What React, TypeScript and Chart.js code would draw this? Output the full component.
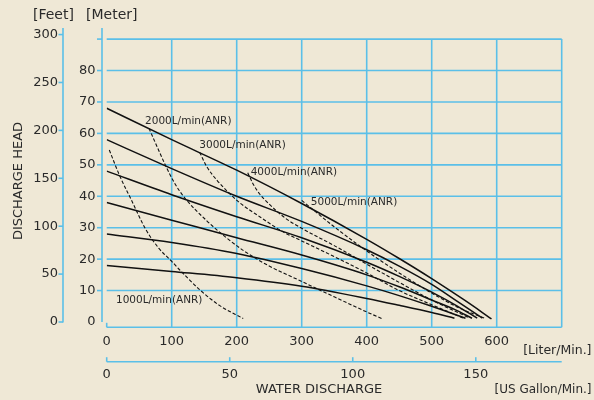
import React, { useEffect, useRef } from "react";
import { Chart, registerables } from "chart.js";

Chart.register(...registerables);

// ---- data (flow in L/min, head in m) ----
const solid68: [number, number][] = [[0, 68], [100, 58], [200, 48.3], [300, 37.7], [400, 26.3], [450, 20.2], [500, 13.8], [550, 7], [592, 1]];
const solid58: [number, number][] = [[0, 58], [100, 48.8], [200, 40], [300, 32], [400, 23], [450, 17.8], [500, 12], [540, 6.5], [578, 1.2]];
const solid48: [number, number][] = [[0, 48], [100, 40.5], [200, 33.5], [300, 26.8], [400, 19], [450, 14.5], [500, 9.5], [540, 5], [570, 1.2]];
const solid38: [number, number][] = [[0, 38], [100, 32.4], [200, 26.8], [300, 21.3], [400, 15], [450, 11.2], [500, 7], [535, 4], [562, 1.2]];
const solid28: [number, number][] = [[0, 28], [100, 25.3], [200, 21.8], [300, 17], [400, 11.5], [450, 8.4], [500, 5], [552, 1.2]];
const solid18: [number, number][] = [[0, 18], [100, 16.1], [200, 14.1], [300, 11.4], [400, 7.5], [450, 5.3], [500, 3], [535, 1.2]];

const air1000: [number, number][] = [[4, 54.7], [20, 46.5], [38, 38.8], [60, 29.5], [80, 23.5], [100, 19.3], [115, 16], [143, 10.3], [174, 5.2], [210, 1.1]];
const air2000: [number, number][] = [[65, 61.6], [82, 53.7], [90, 50], [105, 44], [120, 39.5], [154, 32.2], [183, 27], [210, 22.8], [250, 17.8], [297, 13.2], [350, 8], [400, 3.2], [423, 1.1]];
const air3000: [number, number][] = [[143, 54], [154, 49.4], [170, 45], [185, 41.7], [203, 38.2], [236, 33.4], [272, 28.6], [300, 25.8], [350, 20.8], [400, 15.6], [450, 10], [500, 5.5], [548, 1.3]];
const air4000: [number, number][] = [[217, 47.5], [225, 44], [235, 40.8], [250, 37.5], [275, 33], [300, 29.8], [350, 24.3], [400, 18.4], [450, 12.6], [500, 7], [558, 1.3]];
const air5000: [number, number][] = [[300, 38.7], [350, 30.3], [400, 22.6], [450, 15.6], [500, 9.2], [545, 4.2], [582, 1.2]];

const airLabels = ["1000L/min(ANR)", "2000L/min(ANR)", "3000L/min(ANR)", "4000L/min(ANR)", "5000L/min(ANR)"];
const airLabelAt: [number, number][] = [[14.3, 7], [59, 64], [142.5, 56.3], [221.5, 47.5], [314, 38]];

const meterTicks = [0, 10, 20, 30, 40, 50, 60, 70, 80];
const meterGrid = [10, 20, 30, 40, 50, 60, 70, 80, 90];
const feetTicks = [0, 50, 100, 150, 200, 250, 300];
const literTicks = [0, 100, 200, 300, 400, 500, 600];
const literGrid = [100, 200, 300, 400, 500, 600, 700];
const gallonTicks = [0, 50, 100, 150];

const X_MAX = 700;
const Y_MAX = 93.5;
const FT_PER_M = 3.2808;
const L_PER_GAL = 3.7854;

const BG = "#efe8d6";
const GRID = "#5bbfe8";
const INK = "#2a2a2a";
const FONT = "DejaVu Sans";

const toXY = (pts: [number, number][]) => pts.map(([x, y]) => ({ x, y }));

const framePlugin = {
  id: "frame",
  beforeDatasetsDraw(chart: any) {
    const { ctx, scales } = chart;
    const x = scales.x, y = scales.y, yFt = scales.yFt, xGal = scales.xGal;
    const x0 = x.getPixelForValue(0);
    const xEnd = x.getPixelForValue(X_MAX);
    const y0 = y.getPixelForValue(0);
    const yTop = y.getPixelForValue(90);
    const axisTop = y.getPixelForValue(Y_MAX);
    const meterAxisX = x0 - 4.7;
    const feetAxisX = x0 - 43.7;
    const literAxisY = y0 + 5.3;
    const gallonAxisY = y0 + 39.7;

    const line = (a: number, b: number, c: number, d: number) => {
      ctx.beginPath();
      ctx.moveTo(a, b);
      ctx.lineTo(c, d);
      ctx.stroke();
    };

    ctx.save();
    ctx.strokeStyle = GRID;
    ctx.lineWidth = 1.6;
    ctx.lineCap = "butt";
    // horizontal grid
    for (const v of meterGrid) {
      const py = y.getPixelForValue(v);
      line(x0, py, xEnd, py);
      line(meterAxisX - 5, py, meterAxisX, py);
    }
    // vertical grid
    for (const v of literGrid) {
      const px = x.getPixelForValue(v);
      line(px, yTop, px, literAxisY);
    }
    // meter axis
    line(meterAxisX, axisTop, meterAxisX, y0);
    // feet axis
    line(feetAxisX, axisTop, feetAxisX, yFt.getPixelForValue(0) + 0.6);
    for (const v of feetTicks) {
      const py = yFt.getPixelForValue(v);
      line(feetAxisX - 4.5, py, feetAxisX, py);
    }
    // liter axis
    line(x0, literAxisY, xEnd, literAxisY);
    line(x0, literAxisY - 4.5, x0, literAxisY);
    // gallon axis
    line(x0, gallonAxisY, xEnd, gallonAxisY);
    for (const v of gallonTicks) {
      const px = xGal.getPixelForValue(v);
      line(px, gallonAxisY - 4.5, px, gallonAxisY);
    }

    // tick labels
    ctx.fillStyle = INK;
    ctx.font = `13px "${FONT}"`;
    ctx.textBaseline = "middle";
    ctx.textAlign = "right";
    for (const v of meterTicks) ctx.fillText(String(v), meterAxisX - 6.5, y.getPixelForValue(v));
    for (const v of feetTicks) ctx.fillText(String(v), feetAxisX - 5, yFt.getPixelForValue(v));
    ctx.textAlign = "center";
    for (const v of literTicks) ctx.fillText(String(v), x.getPixelForValue(v), literAxisY + 14.5);
    for (const v of gallonTicks) ctx.fillText(String(v), xGal.getPixelForValue(v), gallonAxisY + 13);

    // axis titles
    ctx.font = `14px "${FONT}"`;
    ctx.textAlign = "left";
    ctx.fillText("[Feet]", 33, 15.5);
    ctx.fillText("[Meter]", 86, 15.5);
    ctx.font = `12.5px "${FONT}"`;
    ctx.textAlign = "right";
    ctx.fillText("[Liter/Min.]", 591.5, 351);
    ctx.font = `12px "${FONT}"`;
    ctx.fillText("[US Gallon/Min.]", 591.5, 390);
    ctx.font = `13px "${FONT}"`;
    ctx.textAlign = "center";
    ctx.fillText("WATER DISCHARGE", 319, 390);
    ctx.save();
    ctx.translate(19, 181);
    ctx.rotate(-Math.PI / 2);
    ctx.fillText("DISCHARGE HEAD", 0, 0);
    ctx.restore();

    // curve labels
    ctx.font = `10.5px "${FONT}"`;
    ctx.textAlign = "left";
    airLabels.forEach((t, i) => {
      const [lx, ly] = airLabelAt[i];
      ctx.fillText(t, x.getPixelForValue(lx), y.getPixelForValue(ly));
    });
    ctx.restore();
  },
};

export default function App() {
  const ref = useRef<HTMLCanvasElement | null>(null);
  useEffect(() => {
    if (!ref.current) return;
    const solid = (pts: [number, number][]) => ({
      data: toXY(pts),
      borderColor: "#111",
      borderWidth: 1.5,
      pointRadius: 0,
      cubicInterpolationMode: "monotone" as const,
      fill: false,
    });
    const dashed = (pts: [number, number][]) => ({
      data: toXY(pts),
      borderColor: "#111",
      borderWidth: 1.1,
      borderDash: [3.5, 2],
      pointRadius: 0,
      cubicInterpolationMode: "monotone" as const,
      fill: false,
    });
    const chart = new Chart(ref.current, {
      type: "line",
      data: {
        datasets: [
          solid(solid68), solid(solid58), solid(solid48), solid(solid38), solid(solid28), solid(solid18),
          dashed(air1000), dashed(air2000), dashed(air3000), dashed(air4000), dashed(air5000),
        ],
      },
      options: {
        responsive: true,
        maintainAspectRatio: false,
        animation: false,
        events: [],
        layout: { padding: { left: 106.7, right: 594 - 561.7, top: 28.1, bottom: 400 - 322 } },
        plugins: { legend: { display: false }, tooltip: { enabled: false } },
        scales: {
          x: { type: "linear", min: 0, max: X_MAX, display: false },
          y: { type: "linear", min: 0, max: Y_MAX, display: false },
          xGal: { type: "linear", axis: "x", position: "bottom", min: 0, max: X_MAX / L_PER_GAL, display: false },
          yFt: { type: "linear", axis: "y", position: "left", min: 0, max: Y_MAX * FT_PER_M, display: false },
        },
      },
      plugins: [framePlugin],
    } as any);
    return () => chart.destroy();
  }, []);
  return (
    <div style={{ position: "fixed", left: 0, top: 0, width: 594, height: 400, background: BG }}>
      <canvas ref={ref} />
    </div>
  );
}
